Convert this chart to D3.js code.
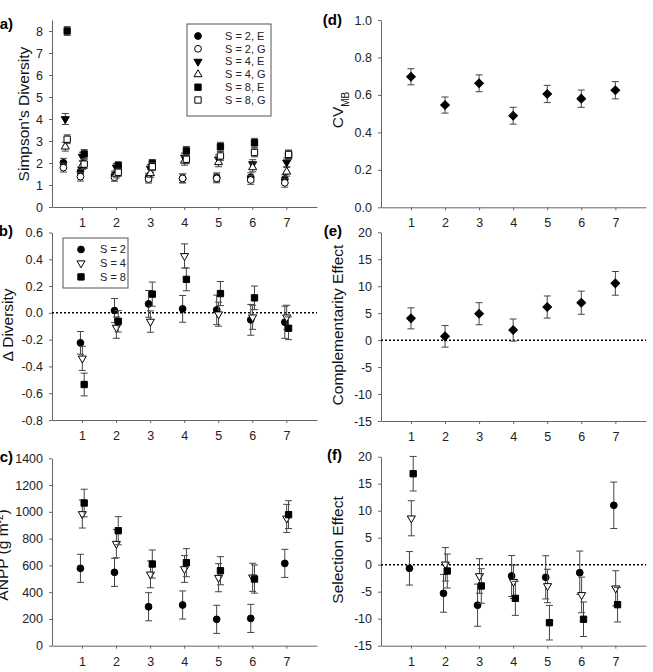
<!DOCTYPE html>
<html>
<head>
<meta charset="utf-8">
<script src="https://d3js.org/d3.v7.min.js"></script>
<style>
  body { margin: 0; background: #fff; }
  text { font-family: Arial, "Liberation Sans", sans-serif; }
</style>
</head>
<body>
<div id="chart"></div>
<script>
// categories on the x axis
var groups = [1, 2, 3, 4, 5, 6, 7];
var simpGroups = [0.5, 1, 2, 3, 4, 5, 6, 7];

// (a) Simpson's diversity, E and G for each S
var simpS2E = [2.01, 1.61, 1.45, 1.35, 1.30, 1.35, 1.35, 1.27];
var simpS2G = [1.79, 1.38, 1.35, 1.27, 1.30, 1.30, 1.23, 1.10];
var simpS4E = [4.00, 2.29, 1.80, 1.75, 2.25, 2.17, 1.95, 2.03];
var simpS4G = [2.74, 1.90, 1.50, 1.53, 2.10, 2.03, 1.80, 1.60];
var simpS8E = [8.00, 2.41, 1.88, 1.98, 2.55, 2.74, 2.92, 2.35];
var simpS8G = [3.08, 1.95, 1.58, 1.83, 2.17, 2.32, 2.48, 2.39];
var simpErr = [0.2, 0.2, 0.18, 0.18, 0.2, 0.2, 0.2, 0.2];
var simpErrS4E = [0.25, 0.2, 0.18, 0.18, 0.2, 0.2, 0.2, 0.2];

// (b) delta diversity
var dS2 = [-0.224, 0.017, 0.067, 0.03, 0.022, -0.052, -0.07];
var dS2err = [0.085, 0.09, 0.1, 0.1, 0.11, 0.115, 0.12];
var dS4 = [-0.34, -0.11, -0.065, 0.425, -0.01, -0.033, -0.033];
var dS4err = [0.09, 0.08, 0.08, 0.09, 0.09, 0.09, 0.09];
var dS8 = [-0.535, -0.063, 0.14, 0.25, 0.144, 0.112, -0.115];
var dS8err = [0.085, 0.08, 0.09, 0.085, 0.09, 0.088, 0.085];

// (c) ANPP
var anppS2 = [578, 548, 291, 304, 197, 204, 615];
var anppS2err = [105, 105, 105, 105, 105, 105, 105];
var anppS4 = [984, 762, 533, 573, 508, 511, 951];
var anppS4err = [105, 105, 100, 100, 105, 105, 105];
var anppS8 = [1066, 859, 610, 620, 560, 498, 979];
var anppS8err = [103, 105, 105, 105, 105, 105, 104];

// (d) CV_MB
var cv = [0.697, 0.546, 0.662, 0.489, 0.605, 0.58, 0.625];
var cvErr = [0.043, 0.043, 0.045, 0.045, 0.046, 0.046, 0.046];

// (e) complementarity effect
var comp = [4.04, 0.7, 4.9, 1.87, 6.14, 6.94, 10.53];
var compErr = [1.95, 2.0, 2.05, 2.05, 2.05, 2.15, 2.2];

// (f) selection effect
var selS2 = [-0.67, -5.3, -7.5, -2.09, -2.34, -1.48, 11.0];
var selS2err = [3.1, 3.5, 3.9, 3.8, 4.0, 4.0, 4.3];
var selS4 = [8.6, 0.07, -2.09, -3.15, -3.94, -5.6, -4.37];
var selS4err = [3.25, 3.1, 3.2, 3.1, 3.1, 3.3, 3.25];
var selS8 = [16.85, -1.17, -3.94, -6.23, -10.74, -10.1, -7.4];
var selS8err = [3.2, 3.15, 3.2, 3.15, 3.2, 3.2, 3.2];

// tick values
var ticksA = [0, 1, 2, 3, 4, 5, 6, 7, 8];
var ticksB = [-0.8, -0.6, -0.4, -0.2, 0.0, 0.2, 0.4, 0.6];
var ticksC = [0, 200, 400, 600, 800, 1000, 1200, 1400];
var ticksD = [0.0, 0.2, 0.4, 0.6, 0.8, 1.0];
var ticksEF = [-15, -10, -5, 0, 5, 10, 15, 20];

// legends
var legendA = ["S = 2, E", "S = 2, G", "S = 4, E", "S = 4, G", "S = 8, E", "S = 8, G"];
var legendB = ["S = 2", "S = 4", "S = 8"];

var width = 653, height = 672;
var svg = d3.select("#chart").append("svg")
    .attr("width", width)
    .attr("height", height);

// marker shapes
var sym = {
  circle:  { type: d3.symbolCircle, size: 36, rot: 0 },
  square:  { type: d3.symbolSquare, size: 40, rot: 0 },
  triUp:   { type: d3.symbolTriangle, size: 28, rot: 0 },
  triDown: { type: d3.symbolTriangle, size: 28, rot: 180 },
  diamond: { type: d3.symbolSquare, size: 38, rot: 45 }
};

function marker(g, shape, filled, x, y) {
  var s = sym[shape];
  g.append("path")
    .attr("d", d3.symbol().type(s.type).size(s.size)())
    .attr("transform", "translate(" + x + "," + y + ") rotate(" + s.rot + ")")
    .attr("fill", filled ? "#000" : "#fff")
    .attr("stroke", "#000")
    .attr("stroke-width", 1);
}

function fmt(dec) {
  return function(d) { return d.toFixed(dec).replace("\u2212", "-"); };
}

function drawPanel(p) {
  var x = d3.scaleLinear().domain([0.12, 7.9]).range([p.left, p.left + 265]);
  var y = d3.scaleLinear().domain(p.ydom).range([p.bottom, p.top]);
  var g = svg.append("g");

  var yAxis = g.append("g")
      .attr("transform", "translate(" + p.left + ",0)")
      .call(d3.axisLeft(y).tickValues(p.ticks).tickFormat(fmt(p.dec))
            .tickSize(3).tickSizeOuter(0).tickPadding(6));
  var xAxis = g.append("g")
      .attr("transform", "translate(0," + p.bottom + ")")
      .call(d3.axisBottom(x).tickValues(groups).tickFormat(d3.format("d"))
            .tickSize(3).tickSizeOuter(0).tickPadding(8));
  [yAxis, xAxis].forEach(function(ax) {
    ax.select(".domain").attr("stroke", "#666");
    ax.selectAll(".tick line").attr("stroke", "#666");
    ax.selectAll(".tick text").attr("fill", "#222").style("font-size", "12.5px")
      .style("font-family", "Arial, 'Liberation Sans', sans-serif");
  });

  if (p.zero) {
    g.append("line")
      .attr("x1", p.left).attr("x2", p.left + 265)
      .attr("y1", y(0)).attr("y2", y(0))
      .attr("stroke", "#000").attr("stroke-width", 1.5)
      .attr("stroke-dasharray", "2,2");
  }

  p.series.forEach(function(s) {
    var xs = s.xs || groups;
    s.values.forEach(function(v, i) {
      var cx = x(xs[i] + s.off);
      var e = s.err[i];
      g.append("line").attr("x1", cx).attr("x2", cx)
        .attr("y1", y(v - e)).attr("y2", y(v + e))
        .attr("stroke", "#444").attr("stroke-width", 1);
      [v - e, v + e].forEach(function(ev) {
        g.append("line").attr("x1", cx - 3.5).attr("x2", cx + 3.5)
          .attr("y1", y(ev)).attr("y2", y(ev))
          .attr("stroke", "#444").attr("stroke-width", 1);
      });
    });
    s.values.forEach(function(v, i) {
      marker(g, s.shape, s.filled, x(xs[i] + s.off), y(v));
    });
  });

  // axis title
  var t = g.append("text")
      .attr("transform", "translate(" + p.titleX + "," + p.titleY + ") rotate(-90)")
      .attr("text-anchor", "middle")
      .attr("dy", "0.35em")
      .style("font-size", "15.5px")
      .attr("fill", "#111");
  if (p.titleParts) {
    p.titleParts.forEach(function(tp) {
      t.append("tspan").text(tp.t)
        .attr("baseline-shift", tp.shift || null)
        .style("font-size", tp.size || null);
    });
  } else {
    t.text(p.title);
  }

  // panel letter
  g.append("text")
    .attr("x", p.labX).attr("y", p.labY)
    .attr("text-anchor", "end")
    .style("font-size", "15px").style("font-weight", "bold")
    .text(p.label);
}

var offS2 = -0.045, offS4 = 0.01, offS8 = 0.065;

// (a)
drawPanel({
  left: 52, top: 20, bottom: 207, ydom: [0, 8.5], ticks: ticksA, dec: 0,
  title: "Simpson's Diversity", titleX: 24, titleY: 114, label: "(a)", labX: 13, labY: 29,
  series: [
    { values: simpS2E, err: simpErr, xs: simpGroups, off: offS2, shape: "circle", filled: true },
    { values: simpS2G, err: simpErr, xs: simpGroups, off: offS2, shape: "circle", filled: false },
    { values: simpS4E, err: simpErrS4E, xs: simpGroups, off: offS4, shape: "triDown", filled: true },
    { values: simpS4G, err: simpErr, xs: simpGroups, off: offS4, shape: "triUp", filled: false },
    { values: simpS8E, err: simpErr, xs: simpGroups, off: offS8, shape: "square", filled: true },
    { values: simpS8G, err: simpErr, xs: simpGroups, off: offS8, shape: "square", filled: false }
  ]
});

// (b)
drawPanel({
  left: 52, top: 232.5, bottom: 420, ydom: [-0.8, 0.6], ticks: ticksB, dec: 1, zero: true,
  title: "\u0394 Diversity", titleX: 8, titleY: 325, label: "(b)", labX: 13, labY: 236,
  series: [
    { values: dS2, err: dS2err, off: offS2, shape: "circle", filled: true },
    { values: dS4, err: dS4err, off: offS4, shape: "triDown", filled: false },
    { values: dS8, err: dS8err, off: offS8, shape: "square", filled: true }
  ]
});

// (c)
drawPanel({
  left: 52, top: 458.3, bottom: 645.7, ydom: [0, 1400], ticks: ticksC, dec: 0,
  titleParts: [{ t: "ANPP (g m" }, { t: "-2", shift: "super", size: "10px" }, { t: ")" }],
  titleX: 3, titleY: 555, label: "(c)", labX: 13, labY: 462,
  series: [
    { values: anppS2, err: anppS2err, off: offS2, shape: "circle", filled: true },
    { values: anppS4, err: anppS4err, off: offS4, shape: "triDown", filled: false },
    { values: anppS8, err: anppS8err, off: offS8, shape: "square", filled: true }
  ]
});

// (d)
drawPanel({
  left: 381, top: 20, bottom: 207.3, ydom: [0, 1], ticks: ticksD, dec: 1,
  titleParts: [{ t: "CV" }, { t: "MB", shift: "sub", size: "10px" }],
  titleX: 338, titleY: 110, label: "(d)", labX: 342, labY: 25,
  series: [
    { values: cv, err: cvErr, off: 0, shape: "diamond", filled: true }
  ]
});

// (e)
drawPanel({
  left: 381, top: 232.3, bottom: 421, ydom: [-15, 20], ticks: ticksEF, dec: 0, zero: true,
  title: "Complementarity Effect", titleX: 338, titleY: 325, label: "(e)", labX: 342, labY: 236,
  series: [
    { values: comp, err: compErr, off: 0, shape: "diamond", filled: true }
  ]
});

// (f)
drawPanel({
  left: 381, top: 456.7, bottom: 645.7, ydom: [-15, 20], ticks: ticksEF, dec: 0, zero: true,
  title: "Selection Effect", titleX: 338, titleY: 550, label: "(f)", labX: 342, labY: 460,
  series: [
    { values: selS2, err: selS2err, off: offS2, shape: "circle", filled: true },
    { values: selS4, err: selS4err, off: offS4, shape: "triDown", filled: false },
    { values: selS8, err: selS8err, off: offS8, shape: "square", filled: true }
  ]
});

// legend for (a)
var legA = svg.append("g");
legA.append("rect").attr("x", 187).attr("y", 24).attr("width", 84).attr("height", 92)
  .attr("fill", "#fff").attr("stroke", "#555");
var legAShapes = [["circle", true], ["circle", false], ["triDown", true], ["triUp", false], ["square", true], ["square", false]];
legendA.forEach(function(l, i) {
  var ly = 36 + i * 12.8;
  marker(legA, legAShapes[i][0], legAShapes[i][1], 198, ly);
  legA.append("text").attr("x", 225).attr("y", ly).attr("dy", "0.35em")
    .style("font-size", "11px").attr("fill", "#222").text(l);
});

// legend for (b)
var legB = svg.append("g");
legB.append("rect").attr("x", 63).attr("y", 238).attr("width", 65).attr("height", 50)
  .attr("fill", "#fff").attr("stroke", "#555");
var legBShapes = [["circle", true], ["triDown", false], ["square", true]];
legendB.forEach(function(l, i) {
  var ly = 249.5 + i * 13.7;
  marker(legB, legBShapes[i][0], legBShapes[i][1], 81, ly);
  legB.append("text").attr("x", 100).attr("y", ly).attr("dy", "0.35em")
    .style("font-size", "11px").attr("fill", "#222").text(l);
});
</script>
</body>
</html>
